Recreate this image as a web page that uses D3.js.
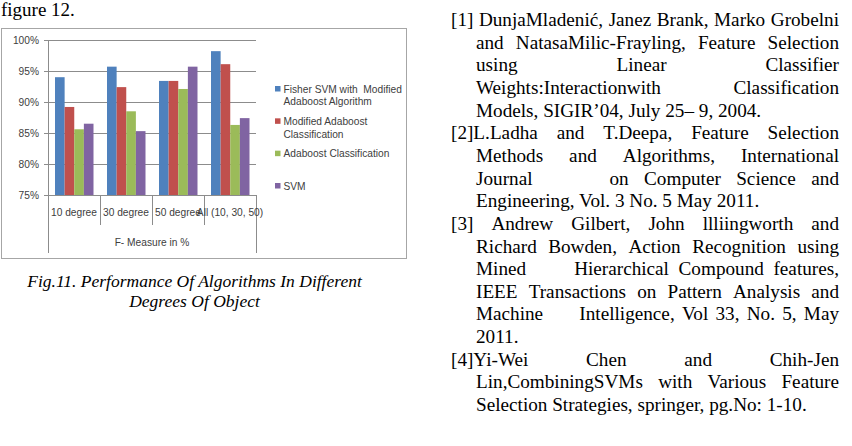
<!DOCTYPE html>
<html>
<head>
<meta charset="utf-8">
<script src="https://cdn.jsdelivr.net/npm/d3@7"></script>
<style>
  html, body { margin: 0; padding: 0; background: #fff; }
  svg { display: block; }
  .chart text { font-family: "Liberation Sans", Arial, sans-serif; font-size: 10.2px; fill: #404040; white-space: pre; }
  .doc { font-family: "Liberation Serif", "Times New Roman", serif; fill: #000; white-space: pre; }
</style>
</head>
<body>
<div id="page"></div>
<script>
// Chart data
const categories = ['10 degree', '30 degree', '50 degree', 'All (10, 30, 50)'];
const seriesKeys = ['fisher', 'modAda', 'ada', 'svm'];
const legendLabels = [
  ['Fisher SVM with  Modified', 'Adaboost Algorithm'],
  ['Modified Adaboost', 'Classification'],
  ['Adaboost Classification'],
  ['SVM'],
];
const fisherSvm = [94.0, 95.7, 93.4, 98.2];
const modifiedAdaboost = [89.2, 92.4, 93.4, 96.1];
const adaboost = [85.6, 88.5, 92.1, 86.3];
const svm = [86.5, 85.3, 95.7, 87.4];
const yTicks = [75, 80, 85, 90, 95, 100];
const axisTitle = 'F- Measure in %';
const colors = ['#4F81BD', '#C0504D', '#9BBB59', '#8064A2'];

// Page text
const topLine = 'figure 12.';
const caption = ['Fig.11. Performance Of Algorithms In Different', 'Degrees Of Object'];
const references = [
  [
    '[1] DunjaMladenić, Janez Brank, Marko Grobelni',
    'and NatasaMilic-Frayling, Feature Selection',
    'using Linear Classifier',
    'Weights:Interactionwith Classification',
    'Models, SIGIR’04, July 25– 9, 2004.',
  ],
  [
    '[2]L.Ladha and T.Deepa, Feature Selection',
    'Methods and Algorithms, International',
    'Journal     on Computer Science and',
    'Engineering, Vol. 3 No. 5 May 2011.',
  ],
  [
    '[3] Andrew Gilbert, John llliingworth and',
    'Richard Bowden, Action Recognition using',
    'Mined     Hierarchical Compound features,',
    'IEEE Transactions on Pattern Analysis and',
    'Machine     Intelligence, Vol 33, No. 5, May',
    '2011.',
  ],
  [
    '[4]Yi-Wei Chen and Chih-Jen',
    'Lin,CombiningSVMs with Various Feature',
    'Selection Strategies, springer, pg.No: 1-10.',
  ],
];

const values = [fisherSvm, modifiedAdaboost, adaboost, svm];
const rows = categories.map((c, i) => ({ cat: c, vals: seriesKeys.map((k, j) => ({ key: k, v: values[j][i], color: colors[j] })) }));

const W = 852, H = 446;
const svg = d3.select('#page').append('svg').attr('width', W).attr('height', H);
svg.append('rect').attr('width', W).attr('height', H).attr('fill', '#fff');

// ---- chart ----
const chart = svg.append('g').attr('class', 'chart');
chart.append('rect')
  .attr('x', 1.5).attr('y', 28.5).attr('width', 405).attr('height', 230)
  .attr('fill', '#fff').attr('stroke', '#a6a6a6');

const plot = { left: 48, right: 256, top: 40, bottom: 195 };
const y = d3.scaleLinear().domain([75, 100]).range([plot.bottom, plot.top]);
const x0 = d3.scaleBand().domain(categories).range([plot.left, plot.right]);
const x1 = d3.scaleBand().domain(seriesKeys).range([7, 45.5]);

// gridlines
chart.append('g')
  .attr('transform', `translate(${plot.left},0)`)
  .call(d3.axisLeft(y).tickValues(yTicks).tickSize(-(plot.right - plot.left)).tickFormat(''))
  .call((g) => g.select('.domain').remove())
  .call((g) => g.selectAll('line').attr('stroke', '#8c8c8c').attr('shape-rendering', 'crispEdges'));

// bars
chart.append('g').selectAll('g')
  .data(rows)
  .join('g')
  .attr('transform', (d) => `translate(${x0(d.cat)},0)`)
  .selectAll('rect')
  .data((d) => d.vals)
  .join('rect')
  .attr('x', (d) => x1(d.key))
  .attr('width', x1.bandwidth())
  .attr('y', (d) => y(d.v))
  .attr('height', (d) => y(75) - y(d.v))
  .attr('fill', (d) => d.color);

// y axis
chart.append('g')
  .attr('transform', `translate(${plot.left},0)`)
  .call(d3.axisLeft(y).tickValues(yTicks).tickSize(4).tickPadding(5).tickFormat((d) => d + '%'))
  .call((g) => g.select('.domain').attr('stroke', '#8c8c8c').attr('shape-rendering', 'crispEdges'))
  .call((g) => g.selectAll('line').attr('stroke', '#8c8c8c').attr('shape-rendering', 'crispEdges'))
  .call((g) => g.selectAll('text').attr('font-size', null).attr('font-family', null).attr('fill', null));

// category axis (two levels)
const catAxis = chart.append('g').attr('class', 'cat-axis');
const bounds = categories.map((c) => x0(c)).concat([plot.right]);
catAxis.selectAll('line')
  .data(bounds)
  .join('line')
  .attr('x1', (d) => d).attr('x2', (d) => d)
  .attr('y1', plot.bottom)
  .attr('y2', (d, i) => (i === 0 || i === bounds.length - 1 ? 253 : 225))
  .attr('stroke', '#8c8c8c')
  .attr('shape-rendering', 'crispEdges');
catAxis.append('line')
  .attr('x1', plot.left).attr('x2', plot.right)
  .attr('y1', plot.bottom).attr('y2', plot.bottom)
  .attr('stroke', '#8c8c8c').attr('shape-rendering', 'crispEdges');
catAxis.selectAll('text.cat')
  .data(categories)
  .join('text')
  .attr('class', 'cat')
  .attr('x', (d) => x0(d) + x0.bandwidth() / 2)
  .attr('y', 216)
  .attr('text-anchor', 'middle')
  .text((d) => d);
catAxis.append('text')
  .attr('x', (plot.left + plot.right) / 2)
  .attr('y', 245.5)
  .attr('text-anchor', 'middle')
  .text(axisTitle);

// legend
const ly = d3.scalePoint().domain(seriesKeys).range([89, 186]);
const legend = chart.append('g').selectAll('g')
  .data(seriesKeys)
  .join('g')
  .attr('transform', (d) => `translate(275,${ly(d)})`);
legend.append('rect')
  .attr('x', 0).attr('y', -3).attr('width', 5.5).attr('height', 5.5)
  .attr('fill', (d, i) => colors[i]);
legend.append('text')
  .attr('x', 8.5)
  .selectAll('tspan')
  .data((d, i) => legendLabels[i])
  .join('tspan')
  .attr('x', 8.5)
  .attr('y', (d, i) => 3.5 + i * 12.8)
  .text((d) => d);

// ---- page text ----
svg.append('text').attr('class', 'doc')
  .attr('x', 1).attr('y', 16).attr('font-size', 19).text(topLine);

svg.append('g').selectAll('text')
  .data(caption)
  .join('text')
  .attr('class', 'doc')
  .attr('x', 194.5)
  .attr('y', (d, i) => 287 + i * 20)
  .attr('text-anchor', 'middle')
  .attr('font-size', 17.5)
  .attr('font-style', 'italic')
  .text((d) => d);

// justified reference column
const refFont = 19.2;
const colLeft = 451, colIndent = 476, colRight = 839;
const lineStep = 22.65, firstBase = 26;
const refG = svg.append('g').attr('class', 'doc').attr('font-size', refFont);
const probe = refG.append('text');
const measure = (s) => { probe.text(s); return probe.node().getComputedTextLength(); };

let lineNo = 0;
references.forEach((para) => {
  para.forEach((line, li) => {
    const base = firstBase + lineNo * lineStep;
    const left = li === 0 ? colLeft : colIndent;
    const last = li === para.length - 1;
    if (last) {
      refG.append('text').attr('x', left).attr('y', base).text(line);
    } else {
      const parts = line.split(/( +)/);
      const words = parts.filter((p, k) => k % 2 === 0);
      const gaps = parts.filter((p, k) => k % 2 === 1).map((p) => p.length);
      const wordW = words.map(measure);
      const total = d3.sum(wordW);
      const nSpaces = d3.sum(gaps);
      const unit = (colRight - left - total) / nSpaces;
      let cx = left;
      words.forEach((w, k) => {
        refG.append('text').attr('x', cx).attr('y', base).text(w);
        cx += wordW[k] + (k < gaps.length ? gaps[k] * unit : 0);
      });
    }
    lineNo += 1;
  });
});
probe.remove();
</script>
</body>
</html>
